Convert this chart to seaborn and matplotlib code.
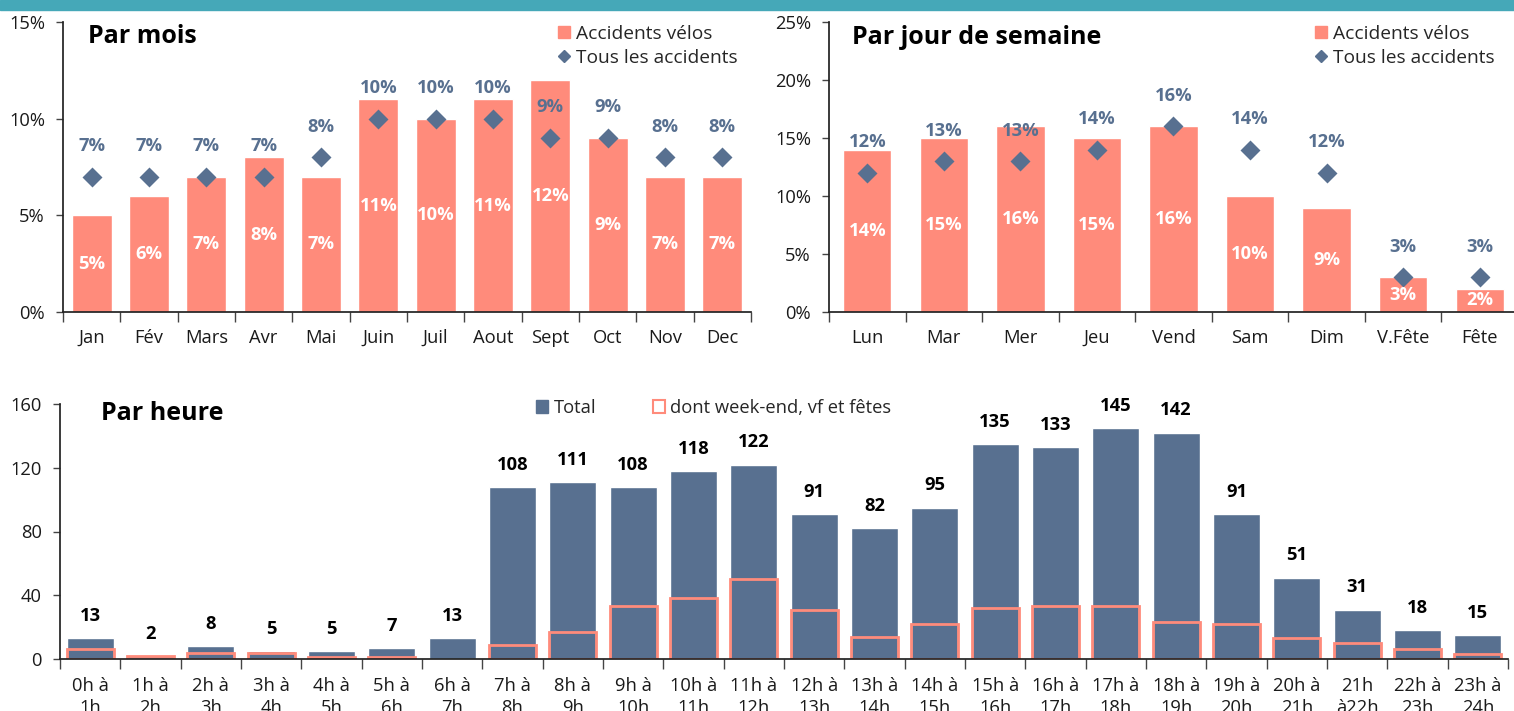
import matplotlib
matplotlib.use("Agg")
import matplotlib.pyplot as plt
import seaborn as sns
import pandas as pd
import numpy as np
from matplotlib.lines import Line2D
from matplotlib.patches import Patch, Rectangle

# ---------------- data ----------------
months = ["Jan", "Fév", "Mars", "Avr", "Mai", "Juin", "Juil", "Aout", "Sept", "Oct", "Nov", "Dec"]
month_velo = [5, 6, 7, 8, 7, 11, 10, 11, 12, 9, 7, 7]
month_all = [7, 7, 7, 7, 8, 10, 10, 10, 9, 9, 8, 8]

days = ["Lun", "Mar", "Mer", "Jeu", "Vend", "Sam", "Dim", "V.Fête", "Fête"]
day_velo = [14, 15, 16, 15, 16, 10, 9, 3, 2]
day_all = [12, 13, 13, 14, 16, 14, 12, 3, 3]

hours = ["0h à\n1h", "1h à\n2h", "2h à\n3h", "3h à\n4h", "4h à\n5h", "5h à\n6h",
         "6h à\n7h", "7h à\n8h", "8h à\n9h", "9h à\n10h", "10h à\n11h", "11h à\n12h",
         "12h à\n13h", "13h à\n14h", "14h à\n15h", "15h à\n16h", "16h à\n17h", "17h à\n18h",
         "18h à\n19h", "19h à\n20h", "20h à\n21h", "21h\nà22h", "22h à\n23h", "23h à\n24h"]
hour_total = [13, 2, 8, 5, 5, 7, 13, 108, 111, 108, 118, 122, 91, 82, 95, 135, 133, 145, 142, 91, 51, 31, 18, 15]
hour_weekend = [6, 2, 4, 4, 1, 1, 0, 9, 17, 33, 38, 50, 31, 14, 22, 32, 33, 33, 23, 22, 13, 10, 6, 3]

# ---------------- style ----------------
SALMON = "#FF8B7B"
SLATE = "#587090"
TEAL = "#45A8B8"
TXT = "#1A1A1A"
FS = 13.2

sns.set_theme(style="ticks")
plt.rcParams['font.family'] = ['Open Sans', 'DejaVu Sans']
plt.rcParams['axes.edgecolor'] = '#222222'
plt.rcParams['xtick.color'] = '#444444'
plt.rcParams['ytick.color'] = '#444444'
plt.rcParams['xtick.labelcolor'] = TXT
plt.rcParams['ytick.labelcolor'] = TXT

W, H = 1514, 711
fig = plt.figure(figsize=(W / 100, H / 100), dpi=100)
fig.add_artist(Rectangle((0, 1 - 10 / H), 1, 10 / H, transform=fig.transFigure,
                         color=TEAL, zorder=0))


def style_axes(ax, n, yticks, pct, pad=12):
    ax.set_xlim(-0.5, n - 0.5)
    ax.set_ylim(yticks[0], yticks[-1])
    ax.set_yticks(yticks)
    ax.set_yticklabels([f"{t}%" if pct else f"{t}" for t in yticks], fontsize=FS)
    ax.set_xticks(np.arange(-0.5, n, 1), minor=True)
    ax.tick_params(axis='x', which='major', length=0, pad=pad, labelsize=FS)
    ax.tick_params(axis='x', which='minor', length=7, width=1)
    ax.tick_params(axis='y', length=5, width=1, pad=8)
    ax.set_xlabel("")
    ax.set_ylabel("")
    sns.despine(ax=ax)


# ---------------- Par mois ----------------
ax1 = fig.add_axes([63 / W, 1 - 312 / H, (751 - 63) / W, 290 / H])
df1 = pd.DataFrame({"cat": months, "velo": month_velo, "all": month_all})
sns.barplot(data=df1, x="cat", y="velo", color=SALMON, saturation=1, width=0.7, ax=ax1)
ax1.bar_label(ax1.containers[0], labels=[f"{v}%" for v in month_velo], label_type='center',
              color='white', fontweight='bold', fontsize=FS)
sns.pointplot(data=df1, x="cat", y="all", color=SLATE, marker='D', linestyle='none',
              markersize=8, errorbar=None, ax=ax1)
for i, v in enumerate(month_all):
    ax1.annotate(f"{v}%", (i, v), xytext=(0, 22), textcoords='offset points', ha='center',
                 va='center', color=SLATE, fontweight='bold', fontsize=FS)
style_axes(ax1, len(months), [0, 5, 10, 15], True)
ax1.text(0.036, 0.95, "Par mois", transform=ax1.transAxes, ha='left', va='center',
         fontsize=18, fontweight='bold', color='black')

# ---------------- Par jour de semaine ----------------
ax2 = fig.add_axes([829 / W, 1 - 312 / H, (1518 - 829) / W, 290 / H])
df2 = pd.DataFrame({"cat": days, "velo": day_velo, "all": day_all})
sns.barplot(data=df2, x="cat", y="velo", color=SALMON, saturation=1, width=0.63, ax=ax2)
ax2.bar_label(ax2.containers[0], labels=[f"{v}%" for v in day_velo], label_type='center',
              color='white', fontweight='bold', fontsize=FS)
sns.pointplot(data=df2, x="cat", y="all", color=SLATE, marker='D', linestyle='none',
              markersize=8, errorbar=None, ax=ax2)
for i, v in enumerate(day_all):
    ax2.annotate(f"{v}%", (i, v), xytext=(0, 22), textcoords='offset points', ha='center',
                 va='center', color=SLATE, fontweight='bold', fontsize=FS)
style_axes(ax2, len(days), [0, 5, 10, 15, 20, 25], True)
ax2.text(0.033, 0.945, "Par jour de semaine", transform=ax2.transAxes, ha='left', va='center',
         fontsize=18, fontweight='bold', color='black')

# legends for the top charts
top_handles = [
    Line2D([0], [0], marker='s', color='none', markerfacecolor=SALMON, markeredgecolor=SALMON,
           markersize=9),
    Line2D([0], [0], marker='D', color='none', markerfacecolor=SLATE, markeredgecolor=SLATE,
           markersize=6),
]
top_labels = ["Accidents vélos", "Tous les accidents"]
for x0 in (557, 1314):
    fig.legend(top_handles, top_labels, loc='upper left', bbox_to_anchor=(x0 / W, 1 - 25 / H),
               frameon=False, fontsize=13.8, handlelength=0.7, handletextpad=0.3,
               labelspacing=0.3, borderaxespad=0, borderpad=0)

# ---------------- Par heure ----------------
ax3 = fig.add_axes([60 / W, 1 - 659 / H, (1508 - 60) / W, 255 / H])
df3 = pd.DataFrame({"cat": hours, "total": hour_total, "weekend": hour_weekend})
sns.barplot(data=df3, x="cat", y="total", color=SLATE, saturation=1, width=0.78, ax=ax3)
sns.barplot(data=df3, x="cat", y="weekend", color=SALMON, fill=False, linewidth=2,
            width=0.78, ax=ax3)
for p in ax3.containers[1]:
    if p.get_height() == 0:
        p.set_visible(False)
for i, v in enumerate(hour_total):
    ax3.annotate(f"{v}", (i, v), xytext=(0, 16), textcoords='offset points', ha='center',
                 va='center', color='black', fontweight='bold', fontsize=FS)
style_axes(ax3, len(hours), [0, 40, 80, 120, 160], False, pad=13)
for lab in ax3.get_xticklabels():
    lab.set_linespacing(1.3)
ax3.text(0.028, 0.962, "Par heure", transform=ax3.transAxes, ha='left', va='center',
         fontsize=18, fontweight='bold', color='black')

bottom_handles = [Patch(facecolor=SLATE, edgecolor=SLATE),
                  Patch(facecolor='none', edgecolor=SALMON, linewidth=1.5)]
fig.legend(bottom_handles, ["Total", "dont week-end, vf et fêtes"], loc='upper left',
           bbox_to_anchor=(536 / W, 1 - 399 / H), ncol=2, frameon=False, fontsize=FS,
           handlelength=0.65, handleheight=0.65, handletextpad=0.3, columnspacing=3.1,
           borderaxespad=0, borderpad=0)

fig.savefig("out.png", dpi=100)
